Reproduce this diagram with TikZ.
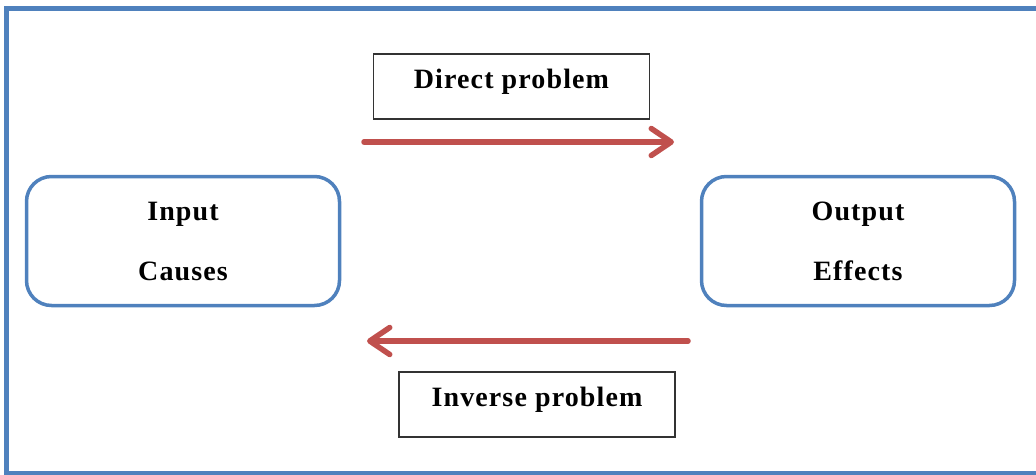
\documentclass[tikz,border=0pt]{standalone}
\usepackage{fontspec}
\setmainfont{Liberation Serif}[LetterSpace=4]
\usetikzlibrary{arrows.meta,positioning}
\definecolor{frameblue}{HTML}{4F81BD}
\definecolor{arrowred}{HTML}{C0504D}

\begin{document}
\begin{tikzpicture}[
  x=1pt, y=-1pt,
  font=\fontsize{28}{60}\selectfont\bfseries,
  rb/.style={draw=frameblue, line width=3.5pt, rounded corners=25pt, minimum width=313pt, minimum height=129pt, align=center, inner sep=0pt},
  lb/.style={draw=black!80, line width=1.5pt, minimum width=276pt, text height=18pt, text depth=15pt, inner xsep=4pt, inner ysep=16pt},
  pf/.style={draw=arrowred, line width=5.5pt, line cap=round, -{Straight Barb[round, length=20pt, width=27pt, line width=5.5pt]}}
]
\useasboundingbox (0,0) rectangle (1036,474);
\draw[frameblue, line width=4.5pt] (1045,8.3) -- (6.5,8.3) -- (6.5,473.5) -- (1045,473.5);

\node[rb] (in) at (183,241) {Input\\Causes};
\node[rb] (out) at (858,241) {Output\\Effects};
\node[lb] (dir) at (511.5,86.5) {Direct problem};
\node[lb] (inv) at (537,404.5) {Inverse problem};

\coordinate (d0) at (364,142); \coordinate (d1) at (674,142);
\coordinate (i0) at (688,341); \coordinate (i1) at (367,341);
\draw[pf] (d0) -- (d1);
\draw[pf] (i0) -- (i1);
\end{tikzpicture}
\end{document}
